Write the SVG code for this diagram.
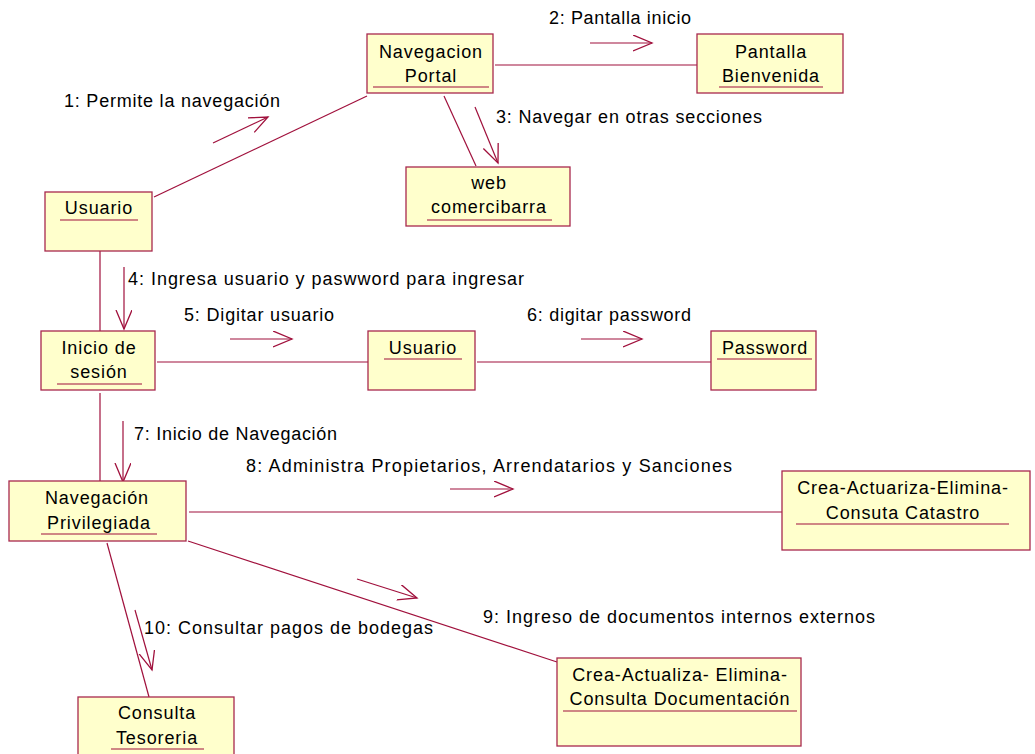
<svg xmlns="http://www.w3.org/2000/svg" width="1035" height="754" viewBox="0 0 1035 754">
<defs>
<style>
.box{fill:#FFFFCC;stroke:#A8284E;stroke-width:1.3}
.ul{stroke:#A0103C;stroke-width:1.2}
.ln{stroke:#A0103C;stroke-width:1.2;fill:none}
.msg{stroke:#A0103C;stroke-width:1.2;fill:none;marker-end:url(#open)}
text{font-family:"Liberation Sans",Arial,sans-serif;font-size:18px;fill:#000;letter-spacing:0.9px}
.c{text-anchor:middle}
</style>
<marker id="open" markerUnits="userSpaceOnUse" markerWidth="22" markerHeight="18" refX="19" refY="8" orient="auto">
<path d="M0,0 L19,8 L0,16" fill="none" stroke="#A0103C" stroke-width="1.3"/>
</marker>
</defs>
<rect width="1035" height="754" fill="#fff"/>
<g id="connectors">
<line class="ln" x1="154" y1="197" x2="367" y2="96"/>
<line class="ln" x1="495" y1="65" x2="697" y2="65"/>
<line class="ln" x1="444" y1="96" x2="476" y2="166"/>
<line class="ln" x1="100" y1="251" x2="100" y2="331"/>
<line class="ln" x1="157" y1="362" x2="368" y2="362"/>
<line class="ln" x1="477" y1="362" x2="711" y2="362"/>
<line class="ln" x1="100" y1="393" x2="100" y2="481"/>
<line class="ln" x1="189" y1="512" x2="782" y2="512"/>
<line class="ln" x1="188" y1="541" x2="557" y2="662"/>
<line class="ln" x1="107" y1="543" x2="149" y2="697"/>
<line class="msg" x1="213" y1="143" x2="268" y2="117"/>
<line class="msg" x1="590" y1="43" x2="652" y2="43"/>
<line class="msg" x1="475" y1="107" x2="498" y2="163"/>
<line class="msg" x1="124" y1="267" x2="124" y2="329"/>
<line class="msg" x1="230" y1="339" x2="292" y2="339"/>
<line class="msg" x1="581" y1="339" x2="642" y2="339"/>
<line class="msg" x1="123" y1="421" x2="123" y2="482"/>
<line class="msg" x1="450" y1="489" x2="513" y2="489"/>
<line class="msg" x1="357" y1="579" x2="417" y2="598"/>
<line class="msg" x1="135" y1="610" x2="152" y2="670"/>
<text x="64" y="107" textLength="217" lengthAdjust="spacing">1: Permite la navegación</text>
<text x="549" y="24" textLength="143" lengthAdjust="spacing">2: Pantalla inicio</text>
<text x="496" y="123" textLength="267" lengthAdjust="spacing">3: Navegar en otras secciones</text>
<text x="128" y="285" textLength="397" lengthAdjust="spacing">4: Ingresa usuario y paswword para ingresar</text>
<text x="184" y="321" textLength="151" lengthAdjust="spacing">5: Digitar usuario</text>
<text x="527" y="321" textLength="165" lengthAdjust="spacing">6: digitar password</text>
<text x="134" y="440" textLength="204" lengthAdjust="spacing">7: Inicio de Navegación</text>
<text x="246" y="472" textLength="487" lengthAdjust="spacing">8: Administra Propietarios, Arrendatarios y Sanciones</text>
<text x="483" y="623" textLength="393" lengthAdjust="spacing">9: Ingreso de documentos internos externos</text>
<text x="144" y="634" textLength="290" lengthAdjust="spacing">10: Consultar pagos de bodegas</text>
</g>
<g id="usuario1">
<rect class="box" x="45" y="192" width="107" height="59"/>
<text class="c" x="99" y="214">Usuario</text>
<line class="ul" x1="60" y1="220" x2="138" y2="220"/>
</g>
<g id="navegacion-portal">
<rect class="box" x="367" y="34" width="126" height="59"/>
<text class="c" x="431" y="58">Navegacion</text>
<text class="c" x="431" y="82">Portal</text>
<line class="ul" x1="373" y1="87" x2="489" y2="87"/>
</g>
<g id="pantalla-bienvenida">
<rect class="box" x="697" y="34" width="146" height="59"/>
<text class="c" x="771" y="58">Pantalla</text>
<text class="c" x="771" y="82">Bienvenida</text>
<line class="ul" x1="719" y1="87" x2="823" y2="87"/>
</g>
<g id="web-comercibarra">
<rect class="box" x="406" y="167" width="164" height="59"/>
<text class="c" x="489" y="189">web</text>
<text class="c" x="489" y="213">comercibarra</text>
<line class="ul" x1="427" y1="220" x2="552" y2="220"/>
</g>
<g id="inicio-sesion">
<rect class="box" x="41" y="331" width="114" height="59"/>
<text class="c" x="99" y="354">Inicio de</text>
<text class="c" x="99" y="378">sesión</text>
<line class="ul" x1="57" y1="384" x2="142" y2="384"/>
</g>
<g id="usuario2">
<rect class="box" x="368" y="331" width="107" height="59"/>
<text class="c" x="423" y="354">Usuario</text>
<line class="ul" x1="384" y1="359" x2="462" y2="359"/>
</g>
<g id="password">
<rect class="box" x="711" y="331" width="105" height="59"/>
<text class="c" x="765" y="354">Password</text>
<line class="ul" x1="717" y1="359" x2="812" y2="359"/>
</g>
<g id="navegacion-privilegiada">
<rect class="box" x="9" y="481" width="177" height="60"/>
<text class="c" x="97" y="504">Navegación</text>
<text class="c" x="99" y="529">Privilegiada</text>
<line class="ul" x1="41" y1="534" x2="157" y2="534"/>
</g>
<g id="catastro">
<rect class="box" x="782" y="471" width="248" height="79"/>
<text class="c" x="903" y="494">Crea-Actuariza-Elimina-</text>
<text class="c" x="903" y="519">Consuta Catastro</text>
<line class="ul" x1="796" y1="524" x2="1009" y2="524"/>
</g>
<g id="documentacion">
<rect class="box" x="557" y="658" width="244" height="88"/>
<text class="c" x="680" y="681">Crea-Actualiza- Elimina-</text>
<text class="c" x="680" y="705">Consulta Documentación</text>
<line class="ul" x1="563" y1="711" x2="797" y2="711"/>
</g>
<g id="consulta-tesoreria">
<rect class="box" x="78" y="697" width="156" height="60"/>
<text class="c" x="157" y="719">Consulta</text>
<text class="c" x="157" y="744">Tesoreria</text>
<line class="ul" x1="111" y1="749" x2="204" y2="749"/>
</g>
</svg>
